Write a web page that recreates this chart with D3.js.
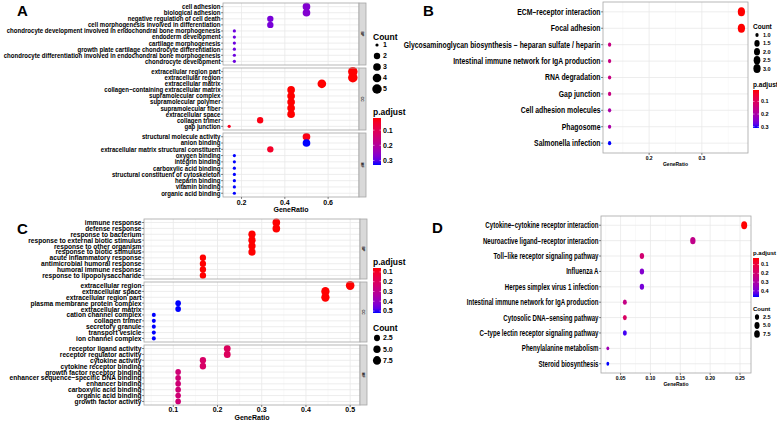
<!DOCTYPE html>
<html><head><meta charset="utf-8">
<script src="https://cdn.jsdelivr.net/npm/d3@7/dist/d3.min.js"></script>
<style>
body{margin:0;background:#fff;}
svg{display:block;}
text{font-family:"Liberation Sans",Arial,Helvetica,sans-serif;font-weight:bold;fill:#000;}
</style></head><body>
<svg id="chart" width="777" height="422"></svg>
<script>
// ================= DATA =================
// Panel A (GO)
const aBPTerms = ["cell adhesion","biological adhesion","negative regulation of cell death","cell morphogenesis involved in differentiation","chondrocyte development involved in endochondral bone morphogenesis","endoderm development","cartilage morphogenesis","growth plate cartilage chondrocyte differentiation","chondrocyte differentiation involved in endochondral bone morphogenesis","chondrocyte development"];
const aBPRatio = [0.5,0.5,0.333,0.333,0.167,0.167,0.167,0.167,0.167,0.167];
const aBPCount = [3,3,2,2,1,1,1,1,1,1];
const aBPPadj  = [0.27,0.27,0.28,0.28,0.29,0.29,0.29,0.29,0.29,0.29];

const aCCTerms = ["extracellular region part","extracellular region","extracellular matrix","collagen\u2212containing extracellular matrix","supramolecular complex","supramolecular polymer","supramolecular fiber","extracellular space","collagen trimer","gap junction"];
const aCCRatio = [0.714,0.714,0.571,0.429,0.429,0.429,0.429,0.429,0.286,0.143];
const aCCCount = [5,5,4,3,3,3,3,3,2,1];
const aCCPadj  = [0.02,0.02,0.02,0.02,0.02,0.02,0.02,0.02,0.03,0.04];

const aMFTerms = ["structural molecule activity","anion binding","extracellular matrix structural constituent","oxygen binding","integrin binding","carboxylic acid binding","structural constituent of cytoskeleton","heparin binding","vitamin binding","organic acid binding"];
const aMFRatio = [0.5,0.5,0.333,0.167,0.167,0.167,0.167,0.167,0.167,0.167];
const aMFCount = [3,3,2,1,1,1,1,1,1,1];
const aMFPadj  = [0.03,0.33,0.05,0.33,0.33,0.33,0.33,0.33,0.33,0.33];

// Panel B (KEGG)
const bTerms = ["ECM\u2212receptor interaction","Focal adhesion","Glycosaminoglycan biosynthesis \u2212 heparan sulfate / heparin","Intestinal immune network for IgA production","RNA degradation","Gap junction","Cell adhesion molecules","Phagosome","Salmonella infection"];
const bRatio = [0.375,0.375,0.125,0.125,0.125,0.125,0.125,0.125,0.125];
const bCount = [3,3,1,1,1,1,1,1,1];
const bPadj  = [0.01,0.01,0.15,0.15,0.15,0.15,0.2,0.2,0.31];

// Panel C (GO)
const cBPTerms = ["immune response","defense response","response to bacterium","response to external biotic stimulus","response to other organism","response to biotic stimulus","acute inflammatory response","antimicrobial humoral response","humoral immune response","response to lipopolysaccharide"];
const cBPRatio = [0.333,0.333,0.278,0.278,0.278,0.278,0.167,0.167,0.167,0.167];
const cBPCount = [6,6,5,5,5,5,3,3,3,3];
const cBPPadj  = [0.06,0.06,0.06,0.06,0.06,0.06,0.06,0.06,0.06,0.06];

const cCCTerms = ["extracellular region","extracellular space","extracellular region part","plasma membrane protein complex","extracellular matrix","cation channel complex","collagen trimer","secretory granule","transport vesicle","ion channel complex"];
const cCCRatio = [0.5,0.444,0.444,0.111,0.111,0.056,0.056,0.056,0.056,0.056];
const cCCCount = [9,8,8,2,2,1,1,1,1,1];
const cCCPadj  = [0.06,0.06,0.06,0.52,0.52,0.52,0.52,0.52,0.52,0.52];

const cMFTerms = ["receptor ligand activity","receptor regulator activity","cytokine activity","cytokine receptor binding","growth factor receptor binding","enhancer sequence\u2212specific DNA binding","enhancer binding","carboxylic acid binding","organic acid binding","growth factor activity"];
const cMFRatio = [0.222,0.222,0.167,0.167,0.111,0.111,0.111,0.111,0.111,0.111];
const cMFCount = [4,4,3,3,2,2,2,2,2,2];
const cMFPadj  = [0.2,0.2,0.22,0.22,0.25,0.25,0.25,0.25,0.25,0.25];

// Panel D (KEGG)
const dTerms = ["Cytokine\u2212cytokine receptor interaction","Neuroactive ligand\u2212receptor interaction","Toll\u2212like receptor signaling pathway","Influenza A","Herpes simplex virus 1 infection","Intestinal immune network for IgA production","Cytosolic DNA\u2212sensing pathway","C\u2212type lectin receptor signaling pathway","Phenylalanine metabolism","Steroid biosynthesis"];
const dRatio = [0.257,0.171,0.0857,0.0857,0.0857,0.0571,0.0571,0.0571,0.0286,0.0286];
const dCount = [9,6,3,3,3,2,2,2,1,1];
const dPadj  = [0.025,0.25,0.2,0.38,0.4,0.24,0.17,0.45,0.33,0.47];

// Tick labels
const aTicks = [0.2,0.4,0.6];
const bTicks = [0.2,0.3];
const cTicks = [0.1,0.2,0.3,0.4,0.5];
const dTicks = [0.05,0.10,0.15,0.20,0.25];
const aPTicks = [0.1,0.2,0.3];
const bPTicks = [0.1,0.2,0.3];
const cPTicks = [0.1,0.2,0.3,0.4,0.5];
const dPTicks = [0.1,0.2,0.3,0.4];
const aCountBreaks = [1,2,3,4,5];
const bCountBreaks = [1.0,1.5,2.0,2.5,3.0];
const cCountBreaks = [2.5,5.0,7.5];
const dCountBreaks = [2.5,5.0,7.5];

// ================= LAYOUT =================
const svg = d3.select("#chart");
const panels = [
 {tag:"A", tagX:17, tagY:16, left:223, right:359, fs:7, labW:217, strip:7,
  facets:[{name:"BP",top:3,bottom:65,terms:aBPTerms,ratio:aBPRatio,count:aBPCount,padj:aBPPadj},
          {name:"CC",top:68,bottom:130,terms:aCCTerms,ratio:aCCRatio,count:aCCCount,padj:aCCPadj},
          {name:"MF",top:133,bottom:197,terms:aMFTerms,ratio:aMFRatio,count:aMFCount,padj:aMFPadj}],
  ticks:aTicks, tickFmt:d3.format(".1f"), tickFs:7, tickY:205, titleY:212, titleFs:7,
  dMin:3.2, dMax:9.5, asp:1.0,
  leg:{x:373, countTitleY:40, countY0:45, countStep:11, countBreaks:aCountBreaks, titleFs:8.5, labFs:7,
       pTitleY:115, barTop:118, barBot:165, barW:8, pTicks:aPTicks}},
 {tag:"B", tagX:423, tagY:16, left:603, right:748, fs:8.5, labW:197, strip:0,
  facets:[{name:"",top:2,bottom:153,terms:bTerms,ratio:bRatio,count:bCount,padj:bPadj}],
  ticks:bTicks, tickFmt:d3.format(".1f"), tickFs:5, tickY:160, titleY:166, titleFs:5,
  dMin:3.3, dMax:7.2, asp:1.25,
  leg:{x:753, countTitleY:29, countY0:35, countStep:8.4, countBreaks:bCountBreaks, titleFs:6.5, labFs:5.5,
       pTitleY:87, barTop:90, barBot:128, barW:6, pTicks:bPTicks}},
 {tag:"C", tagX:17, tagY:234, left:144, right:360, fs:7.2, labW:132, strip:7,
  facets:[{name:"BP",top:219,bottom:279,terms:cBPTerms,ratio:cBPRatio,count:cBPCount,padj:cBPPadj},
          {name:"CC",top:282,bottom:342,terms:cCCTerms,ratio:cCCRatio,count:cCCCount,padj:cCCPadj},
          {name:"MF",top:345,bottom:405,terms:cMFTerms,ratio:cMFRatio,count:cMFCount,padj:cMFPadj}],
  ticks:cTicks, tickFmt:d3.format(".1f"), tickFs:7, tickY:412, titleY:420, titleFs:7,
  dMin:4, dMax:8.6, asp:1.05,
  leg:{x:373, countTitleY:331, countY0:338, countStep:11.2, countBreaks:cCountBreaks, titleFs:8.5, labFs:7,
       pTitleY:265, barTop:268, barBot:313, barW:8, pTicks:cPTicks}},
 {tag:"D", tagX:432, tagY:233, left:601, right:751, fs:8.5, labW:132, strip:0,
  facets:[{name:"",top:216,bottom:373,terms:dTerms,ratio:dRatio,count:dCount,padj:dPadj}],
  ticks:dTicks, tickFmt:d3.format(".2f"), tickFs:5, tickY:380, titleY:386, titleFs:5,
  dMin:2.8, dMax:6, asp:1.35,
  leg:{x:753, countTitleY:311, countY0:317, countStep:8.5, countBreaks:dCountBreaks, titleFs:6, labFs:5.5,
       pTitleY:255, barTop:258, barBot:297, barW:6, pTicks:dPTicks}}
];

function measure(str, fs){
  const t = svg.append("text").attr("font-size",fs).text(str);
  const w = t.node().getComputedTextLength(); t.remove(); return w;
}

panels.forEach(P => {
  const g = svg.append("g");
  const allR = P.facets.flatMap(f=>f.ratio);
  const [mn,mx] = d3.extent(allR); const pad=(mx-mn)*0.05;
  const x = d3.scaleLinear().domain([mn-pad,mx+pad]).range([P.left,P.right]);
  const allP = P.facets.flatMap(f=>f.padj);
  const pExt = d3.extent(allP);
  const col = d3.scaleLinear().domain(pExt).range(["#ff0000","#0000ff"]).interpolate(d3.interpolateLab);
  const cExt = d3.extent(P.facets.flatMap(f=>f.count));
  const dia = c => P.dMin + (P.dMax-P.dMin)*Math.sqrt(Math.max(0,(c-cExt[0]))/(cExt[1]-cExt[0]));
  const allT = P.facets.flatMap(f=>f.terms);
  const longest = d3.max(allT, t=>measure(t,P.fs));
  const sx = P.labW/longest;

  const step = P.ticks[1]-P.ticks[0];
  const minors = [];
  for(let i=-1;i<P.ticks.length;i++){ const v=P.ticks[0]+step*(i+0.5); if(v>x.domain()[0]&&v<x.domain()[1]) minors.push(v);}

  g.append("text").attr("x",P.tagX).attr("y",P.tagY).attr("font-size",15).text(P.tag);

  P.facets.forEach((f,fi) => {
    const y = d3.scalePoint().domain(f.terms).range([f.top,f.bottom]).padding(0.6);
    g.append("rect").attr("x",P.left).attr("y",f.top).attr("width",P.right-P.left).attr("height",f.bottom-f.top).attr("fill","#fff");
    g.selectAll(null).data(minors).join("line").attr("x1",d=>x(d)).attr("x2",d=>x(d)).attr("y1",f.top).attr("y2",f.bottom).attr("stroke","#f3f3f3").attr("stroke-width",0.5);
    g.selectAll(null).data(P.ticks).join("line").attr("x1",d=>x(d)).attr("x2",d=>x(d)).attr("y1",f.top).attr("y2",f.bottom).attr("stroke","#e8e8e8").attr("stroke-width",0.8);
    g.selectAll(null).data(f.terms).join("line").attr("x1",P.left).attr("x2",P.right).attr("y1",d=>y(d)).attr("y2",d=>y(d)).attr("stroke","#e8e8e8").attr("stroke-width",0.8);
    const pts = f.terms.map((t,i)=>({t, r:f.ratio[i], c:f.count[i], p:f.padj[i]}));
    g.selectAll(null).data(pts).join("ellipse")
      .attr("cx",d=>x(d.r)).attr("cy",d=>y(d.t))
      .attr("rx",d=>dia(d.c)/2).attr("ry",d=>dia(d.c)/2*P.asp)
      .attr("fill",d=>col(d.p));
    g.append("rect").attr("x",P.left).attr("y",f.top).attr("width",P.right-P.left).attr("height",f.bottom-f.top).attr("fill","none").attr("stroke","#a6a6a6").attr("stroke-width",0.8);
    g.selectAll(null).data(f.terms).join("line").attr("x1",P.left-2).attr("x2",P.left).attr("y1",d=>y(d)).attr("y2",d=>y(d)).attr("stroke","#333").attr("stroke-width",0.6);
    g.selectAll(null).data(f.terms).join("text")
      .attr("transform",d=>`translate(${P.left-2.5},${y(d)}) scale(${sx},1)`)
      .attr("text-anchor","end").attr("dy","0.35em").attr("font-size",P.fs).attr("fill","#000").text(d=>d);
    if(P.strip>0){
      g.append("rect").attr("x",P.right).attr("y",f.top).attr("width",P.strip).attr("height",f.bottom-f.top).attr("fill","#d9d9d9").attr("stroke","#a6a6a6").attr("stroke-width",0.8);
      g.append("text").attr("transform",`translate(${P.right+P.strip/2},${(f.top+f.bottom)/2}) rotate(90)`)
        .attr("text-anchor","middle").attr("dy","0.35em").attr("font-size",3.5).attr("fill","#555").text(f.name);
    }
    if(fi===P.facets.length-1){
      g.selectAll(null).data(P.ticks).join("line").attr("x1",d=>x(d)).attr("x2",d=>x(d)).attr("y1",f.bottom).attr("y2",f.bottom+2).attr("stroke","#333").attr("stroke-width",0.6);
      g.selectAll(null).data(P.ticks).join("text").attr("x",d=>x(d)).attr("y",P.tickY).attr("text-anchor","middle").attr("font-size",P.tickFs).attr("fill","#222").text(d=>P.tickFmt(d));
      g.append("text").attr("x",(P.left+P.right)/2).attr("y",P.titleY).attr("text-anchor","middle").attr("font-size",P.titleFs).attr("fill","#000").text("GeneRatio");
    }
  });

  const L = P.leg;
  g.append("text").attr("x",L.x).attr("y",L.countTitleY).attr("font-size",L.titleFs).attr("fill","#000").text("Count");
  const allInt = L.countBreaks.every(Number.isInteger) && L.countBreaks.length===5 && L.countBreaks[1]-L.countBreaks[0]===1;
  L.countBreaks.forEach((c,i)=>{
    const cy = L.countY0 + i*L.countStep; const d = dia(c);
    g.append("ellipse").attr("cx",L.x+4).attr("cy",cy).attr("rx",d/2).attr("ry",d/2*P.asp).attr("fill","#000");
    g.append("text").attr("x",L.x+10).attr("y",cy).attr("dy","0.35em").attr("font-size",L.labFs).attr("fill","#000")
      .text(allInt ? c : d3.format(".1f")(c));
  });
  g.append("text").attr("x",L.x).attr("y",L.pTitleY).attr("font-size",L.titleFs).attr("fill","#000").text("p.adjust");
  const defs = svg.append("defs");
  const gid = "grad"+P.tag;
  const lg = defs.append("linearGradient").attr("id",gid).attr("x1",0).attr("x2",0).attr("y1",0).attr("y2",1);
  d3.range(0,1.0001,0.1).forEach(t=>lg.append("stop").attr("offset",t).attr("stop-color",col(pExt[0]+t*(pExt[1]-pExt[0]))));
  g.append("rect").attr("x",L.x).attr("y",L.barTop).attr("width",L.barW).attr("height",L.barBot-L.barTop).attr("fill",`url(#${gid})`);
  const py = d3.scaleLinear().domain(pExt).range([L.barTop,L.barBot]);
  L.pTicks.forEach(v=>{
    g.append("line").attr("x1",L.x).attr("x2",L.x+1.5).attr("y1",py(v)).attr("y2",py(v)).attr("stroke","#fff").attr("stroke-width",0.5);
    g.append("line").attr("x1",L.x+L.barW-1.5).attr("x2",L.x+L.barW).attr("y1",py(v)).attr("y2",py(v)).attr("stroke","#fff").attr("stroke-width",0.5);
    g.append("text").attr("x",L.x+L.barW+2).attr("y",py(v)).attr("dy","0.35em").attr("font-size",L.labFs).attr("fill","#000").text(d3.format(".1f")(v));
  });
});
</script>
</body></html>
